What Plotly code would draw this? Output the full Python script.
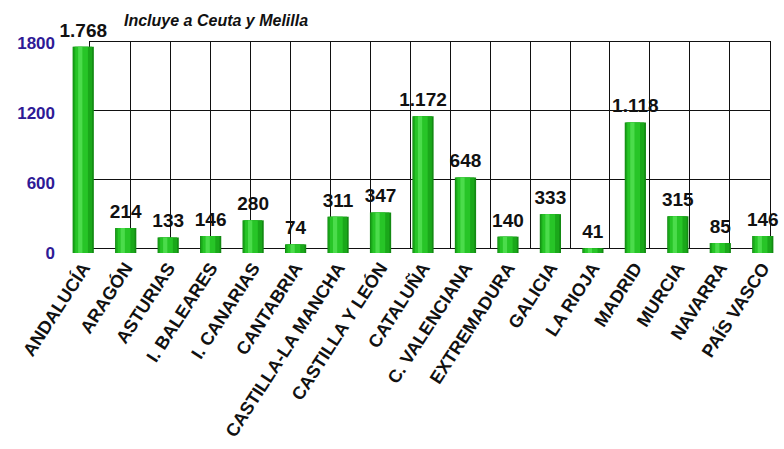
import plotly.graph_objects as go

categories = ["ANDALUCÍA", "ARAGÓN", "ASTURIAS", "I. BALEARES", "I. CANARIAS", "CANTABRIA",
              "CASTILLA-LA MANCHA", "CASTILLA Y LEÓN", "CATALUÑA", "C. VALENCIANA",
              "EXTREMADURA", "GALICIA", "LA RIOJA", "MADRID", "MURCIA", "NAVARRA", "PAÍS VASCO"]
values = [1768, 214, 133, 146, 280, 74, 311, 347, 1172, 648, 140, 333, 41, 1118, 315, 85, 146]
y_ticks = [0, 600, 1200, 1800]
note = "Incluye a Ceuta y Melilla"

FONT = "Liberation Sans, Arial, sans-serif"

fig = go.Figure()

# back-plane grid (subplot xy, drawn first so it stays behind the bars)
fig.add_trace(go.Scatter(x=[0], y=[0], xaxis="x", yaxis="y", mode="markers",
                         marker=dict(opacity=0), hoverinfo="skip", showlegend=False))

# cylinder shading via overlaid bars (subplot x2y2)
layers = [
    dict(width=0.50, offset=-0.25, color="#138a13"),
    dict(width=0.44, offset=-0.23, color="#1aa81a"),
    dict(width=0.30, offset=-0.19, color="#27c527"),
    dict(width=0.10, offset=-0.12, color="#4bdc4b"),
]
for L in layers:
    fig.add_trace(go.Bar(x=categories, y=values, width=L["width"], offset=L["offset"],
                         xaxis="x2", yaxis="y2",
                         marker=dict(color=L["color"], line=dict(width=0)),
                         showlegend=False, hoverinfo="skip"))

# value labels
fig.add_trace(go.Scatter(x=categories, y=values, xaxis="x2", yaxis="y2",
                         mode="markers+text", texttemplate="%{y:,}", textposition="top center",
                         marker=dict(size=7, opacity=0),
                         textfont=dict(family=FONT, size=19, color="#111111", weight="bold"),
                         cliponaxis=False, showlegend=False, hoverinfo="skip"))

fig.add_annotation(text="<b><i>" + note + "</i></b>", xref="paper", yref="paper",
                   x=0.083, y=1.09, xanchor="left", yanchor="middle", showarrow=False,
                   font=dict(family=FONT, size=16, color="#111111"))

grid_line = dict(showgrid=True, gridcolor="#111111", gridwidth=1.3,
                 showline=True, mirror=True, linecolor="#111111", linewidth=1.3,
                 showticklabels=False, zeroline=False, ticks="", automargin=False)

fig.update_layout(
    width=784, height=449,
    margin=dict(l=62, r=0, t=40, b=196, autoexpand=False),
    paper_bgcolor="white", plot_bgcolor="rgba(0,0,0,0)",
    barmode="overlay",
    separators=",.",
    font=dict(family=FONT),
    xaxis=dict(domain=[0.0388, 0.9806], range=[0, 17], dtick=1, tick0=0, anchor="y",
               **grid_line),
    yaxis=dict(domain=[0.0235, 0.9906], range=[0, 1800], tickvals=y_ticks, anchor="x",
               **grid_line),
    xaxis2=dict(domain=[0, 1], anchor="y2", type="category", range=[-0.5, 16.5],
                showgrid=False, zeroline=False, showline=False, ticks="", tickangle=-57,
                automargin=False,
                tickfont=dict(family=FONT, size=18, color="#111111", weight="bold")),
    yaxis2=dict(domain=[0, 1], anchor="x2", range=[0, 1825.7], tickvals=y_ticks,
                ticktext=[str(v) for v in y_ticks],
                showgrid=False, zeroline=False, showline=False, ticks="",
                ticklabelstandoff=6, automargin=False,
                tickfont=dict(family=FONT, size=17, color="#2e1a96", weight="bold")),
)

fig.write_html("out.html", config={"displayModeBar": False},
               post_script="document.body.style.margin='0';document.body.style.overflow='hidden';")
